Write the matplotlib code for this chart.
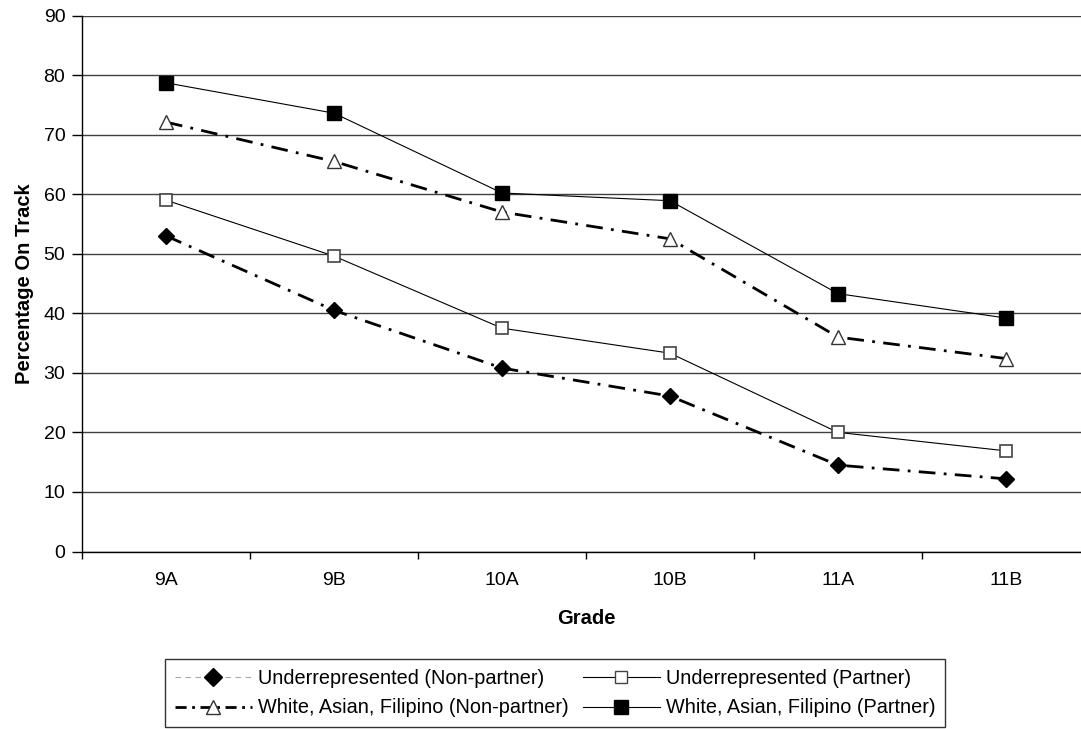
import numpy as np
import matplotlib
matplotlib.use('Agg')
import matplotlib.pyplot as plt
from matplotlib.lines import Line2D

plt.rcParams['font.family'] = ['Liberation Sans', 'DejaVu Sans']

grades = ['9A', '9B', '10A', '10B', '11A', '11B']
under_nonpartner = [53.0, 40.5, 30.8, 26.1, 14.5, 12.2]
under_partner = [59.0, 49.6, 37.5, 33.3, 20.0, 16.9]
waf_nonpartner = [72.1, 65.5, 57.0, 52.5, 36.0, 32.4]
waf_partner = [78.7, 73.6, 60.2, 58.9, 43.3, 39.2]

labels = ['Underrepresented (Non-partner)', 'Underrepresented (Partner)',
          'White, Asian, Filipino (Non-partner)', 'White, Asian, Filipino (Partner)']

fig = plt.figure(figsize=(10.81, 7.29), dpi=100)
ax = fig.add_axes([82 / 1081, 1 - 551.5 / 729, 1008 / 1081, 536 / 729])

x = np.arange(len(grades))

ax.plot(x, under_nonpartner, color='black', linestyle=(0, (6, 3, 1, 3)), lw=2,
        marker='D', markersize=8.5, markerfacecolor='black', markeredgecolor='black', zorder=3)
ax.plot(x, under_partner, color='black', linestyle='-', lw=0.8,
        marker='s', markersize=8.5, markerfacecolor='white', markeredgecolor='#444444',
        markeredgewidth=1.2, zorder=3)
ax.plot(x, waf_nonpartner, color='black', linestyle=(0, (6, 3, 1, 3)), lw=2,
        marker='^', markersize=10, markerfacecolor='white', markeredgecolor='#333333',
        markeredgewidth=1, zorder=3)
ax.plot(x, waf_partner, color='black', linestyle='-', lw=0.8,
        marker='s', markersize=10, markerfacecolor='black', markeredgecolor='black', zorder=3)

ax.set_xlim(-0.5, len(grades) - 0.5)
ax.set_ylim(0, 90)
ax.set_yticks(np.arange(0, 91, 10))
ax.yaxis.grid(True, color='#404040', lw=1)
ax.set_axisbelow(True)

ax.set_xticks(x)
ax.set_xticklabels(grades)
ax.set_xticks(np.arange(-0.5, len(grades), 1), minor=True)
ax.tick_params(axis='x', which='major', length=0, pad=15, labelsize=14)
ax.tick_params(axis='x', which='minor', length=5, width=1, direction='out')
ax.tick_params(axis='y', length=7, width=1, labelsize=14, pad=5)

for s in ['top', 'right']:
    ax.spines[s].set_visible(False)
ax.spines['left'].set_linewidth(1)
ax.spines['bottom'].set_linewidth(1)

ax.set_xlabel('Grade', fontsize=14.5, fontweight='bold', labelpad=14)
ax.set_ylabel('Percentage On Track', fontsize=14.5, fontweight='bold', labelpad=7)

# legend filled row by row, as in the reference
h_unp = Line2D([], [], color='#aaaaaa', linestyle=(0, (5, 4)), lw=0.8, marker='D',
               markersize=9, markerfacecolor='black', markeredgecolor='black')
h_up = Line2D([], [], color='black', linestyle='-', lw=0.8, marker='s', markersize=8,
              markerfacecolor='white', markeredgecolor='#444444')
h_wnp = Line2D([], [], color='black', linestyle=(0, (4, 2, 1, 2)), lw=2, marker='^',
               markersize=10, markerfacecolor='white', markeredgecolor='#333333')
h_wp = Line2D([], [], color='black', linestyle='-', lw=0.8, marker='s', markersize=10,
              markerfacecolor='black', markeredgecolor='black')
handles = [h_unp, h_wnp, h_up, h_wp]
leg_labels = [labels[0], labels[2], labels[1], labels[3]]
leg = fig.legend(handles, leg_labels, ncol=2, loc='lower left',
                 bbox_to_anchor=(165 / 1081, 2 / 729), fontsize=14.3, frameon=True,
                 fancybox=False, edgecolor='black', handlelength=3.9,
                 columnspacing=0.7, handletextpad=0.3, borderpad=0.48,
                 labelspacing=0.55, borderaxespad=0)
leg.get_frame().set_linewidth(1)

fig.savefig('out.png', dpi=100)
